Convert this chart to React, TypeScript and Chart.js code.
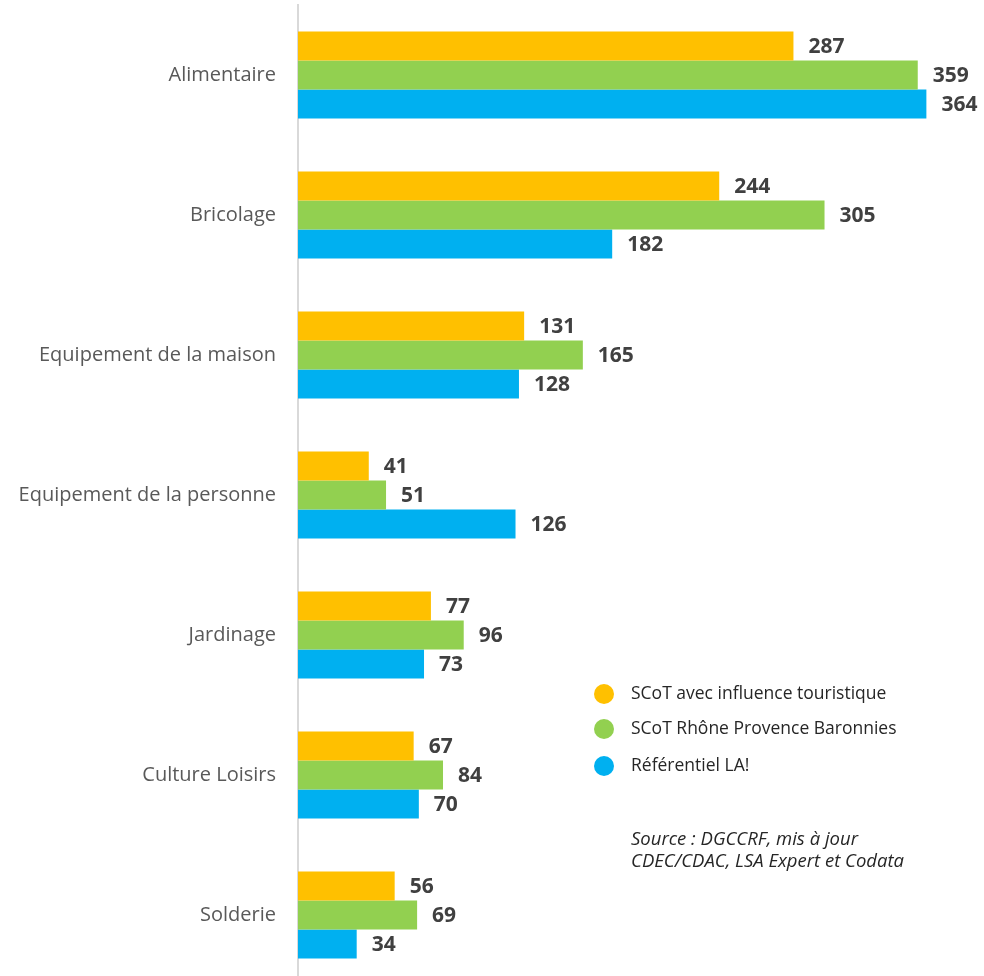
import React, { useEffect, useRef } from "react";
import { Chart, registerables } from "chart.js";
Chart.register(...registerables);

const categories = [
  "Alimentaire",
  "Bricolage",
  "Equipement de la maison",
  "Equipement de la personne",
  "Jardinage",
  "Culture Loisirs",
  "Solderie",
];
const seriesNames = [
  "SCoT avec influence touristique",
  "SCoT Rhône Provence Baronnies",
  "Référentiel LA!",
];
const scotTouristique = [287, 244, 131, 41, 77, 67, 56];
const scotRPB = [359, 305, 165, 51, 96, 84, 69];
const referentiel = [364, 182, 128, 126, 73, 70, 34];
const seriesColors = ["#FFC000", "#92D050", "#00B0F0"];
const sourceLines = ["Source : DGCCRF, mis à jour", "CDEC/CDAC, LSA Expert et Codata"];

const FONT = "'Open Sans', 'Noto Sans', sans-serif";

const valueLabels = {
  id: "valueLabels",
  afterDatasetsDraw(chart: any) {
    const ctx = chart.ctx;
    ctx.save();
    ctx.font = `bold 21px ${FONT}`;
    ctx.fillStyle = "#404040";
    ctx.textAlign = "left";
    ctx.textBaseline = "middle";
    chart.data.datasets.forEach((ds: any, i: number) => {
      const meta = chart.getDatasetMeta(i);
      meta.data.forEach((bar: any, j: number) => {
        ctx.fillText(String(ds.data[j]), bar.x + 15, bar.y + 1);
      });
    });
    ctx.restore();
  },
};

const customLegend = {
  id: "customLegend",
  afterDraw(chart: any) {
    const ctx = chart.ctx;
    ctx.save();
    const rows = [694, 729, 766];
    chart.data.datasets.forEach((ds: any, i: number) => {
      ctx.beginPath();
      ctx.fillStyle = ds.backgroundColor;
      ctx.arc(604, rows[i], 10, 0, Math.PI * 2);
      ctx.fill();
      ctx.fillStyle = "#262626";
      ctx.font = `17.5px ${FONT}`;
      ctx.textAlign = "left";
      ctx.textBaseline = "middle";
      ctx.fillText(ds.label, 631, rows[i]);
    });
    ctx.font = `italic 18.5px ${FONT}`;
    ctx.fillStyle = "#262626";
    sourceLines.forEach((line, k) => {
      ctx.fillText(line, 631, 840 + k * 22);
    });
    ctx.restore();
  },
};

export default function App() {
  const ref = useRef<HTMLCanvasElement | null>(null);
  useEffect(() => {
    if (!ref.current) return;
    const values = [scotTouristique, scotRPB, referentiel];
    const chart = new Chart(ref.current, {
      type: "bar",
      data: {
        labels: categories,
        datasets: values.map((v, i) => ({
          label: seriesNames[i],
          data: v,
          backgroundColor: seriesColors[i],
          borderWidth: 0,
          categoryPercentage: 0.621,
          barPercentage: 1,
        })),
      },
      options: {
        indexAxis: "y",
        responsive: false,
        animation: false,
        layout: { padding: { top: 5, bottom: 5, right: 30, left: 0 } },
        plugins: { legend: { display: false }, tooltip: { enabled: false } },
        scales: {
          x: { display: false, min: 0, max: 380 },
          y: {
            grid: { display: false, drawTicks: false },
            border: { display: true, color: "#D9D9D9", width: 2 },
            ticks: { color: "#595959", font: { family: FONT, size: 20 }, padding: 22 },
            afterFit(scale: any) {
              scale.width = 298;
              scale.paddingTop = 0;
              scale.paddingBottom = 0;
            },
          },
        },
      },
      plugins: [valueLabels, customLegend],
    } as any);
    return () => chart.destroy();
  }, []);
  return (
    <div style={{ position: "fixed", top: 0, left: 0, width: 984, height: 976, overflow: "hidden", background: "#fff" }}>
      <canvas ref={ref} width={984} height={990} style={{ width: 984, height: 990, display: "block" }} />
    </div>
  );
}
